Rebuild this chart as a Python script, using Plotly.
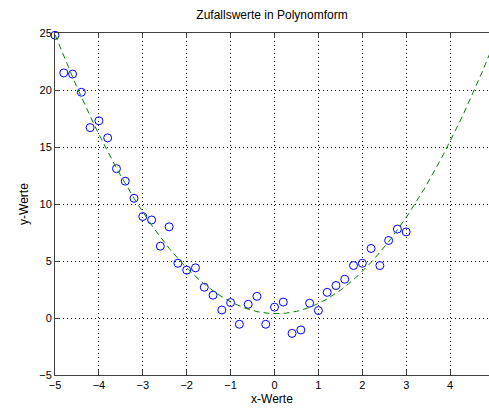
import numpy as np
import plotly.graph_objects as go

# Measured samples
x_vals = [-5.0, -4.8, -4.6, -4.4, -4.2, -4.0, -3.8, -3.6, -3.4, -3.2, -3.0,
          -2.8, -2.6, -2.4, -2.2, -2.0, -1.8, -1.6, -1.4, -1.2, -1.0,
          -0.8, -0.6, -0.4, -0.2, 0.0, 0.2, 0.4, 0.6, 0.8, 1.0,
          1.2, 1.4, 1.6, 1.8, 2.0, 2.2, 2.4, 2.6, 2.8, 3.0]
y_vals = [24.8, 21.5, 21.4, 19.8, 16.7, 17.3, 15.8, 13.1, 12.0, 10.5, 8.9,
          8.6, 6.3, 8.0, 4.8, 4.2, 4.4, 2.7, 2.0, 0.7, 1.35,
          -0.55, 1.2, 1.9, -0.55, 0.95, 1.4, -1.35, -1.05, 1.3, 0.65,
          2.25, 2.85, 3.4, 4.6, 4.8, 6.1, 4.6, 6.8, 7.8, 7.55]

x_ticks = [-5, -4, -3, -2, -1, 0, 1, 2, 3, 4]
y_ticks = [-5, 0, 5, 10, 15, 20, 25]

# Quadratic least-squares fit evaluated over the whole x span
coef = np.polyfit(x_vals, y_vals, 2)
x_fit = np.linspace(-5, 5, 201)
y_fit = np.polyval(coef, x_fit)

font = "Liberation Sans, Arial, sans-serif"

fig = go.Figure()
fig.add_trace(go.Scatter(
    x=x_vals, y=y_vals, mode="markers", cliponaxis=False,
    marker=dict(symbol="circle-open", size=8, color="#0000ff",
                line=dict(width=1, color="#0000ff")),
    showlegend=False,
))
fig.add_trace(go.Scatter(
    x=x_fit, y=y_fit, mode="lines",
    line=dict(color="#008000", width=1, dash="6px,4px"),
    showlegend=False,
))

axis_common = dict(
    showgrid=True, gridcolor="#000000", gridwidth=1, griddash="1px,3px",
    zeroline=False, showline=True, linecolor="#404040", linewidth=1,
    ticks="inside", ticklen=5, tickcolor="#404040",
    tickfont=dict(family=font, size=11, color="#000000"),
)

fig.update_layout(
    width=489, height=412,
    margin=dict(l=55, r=0, t=33, b=37),
    paper_bgcolor="white", plot_bgcolor="white",
    title=dict(text="Zufallswerte in Polynomform", x=0.5, xref="paper",
               y=1 - 15 / 412, yanchor="middle",
               font=dict(family=font, size=12, color="#000000")),
    xaxis=dict(range=[-5, 4.886], tickvals=x_ticks, mirror="ticks",
               title=dict(text="x-Werte", standoff=4,
                          font=dict(family=font, size=12, color="#000000")),
               **axis_common),
    yaxis=dict(range=[-5, 25], tickvals=y_ticks, mirror=False,
               title=dict(text="y-Werte", standoff=8,
                          font=dict(family=font, size=12, color="#000000")),
               **axis_common),
)

fig.write_html("out.html")
